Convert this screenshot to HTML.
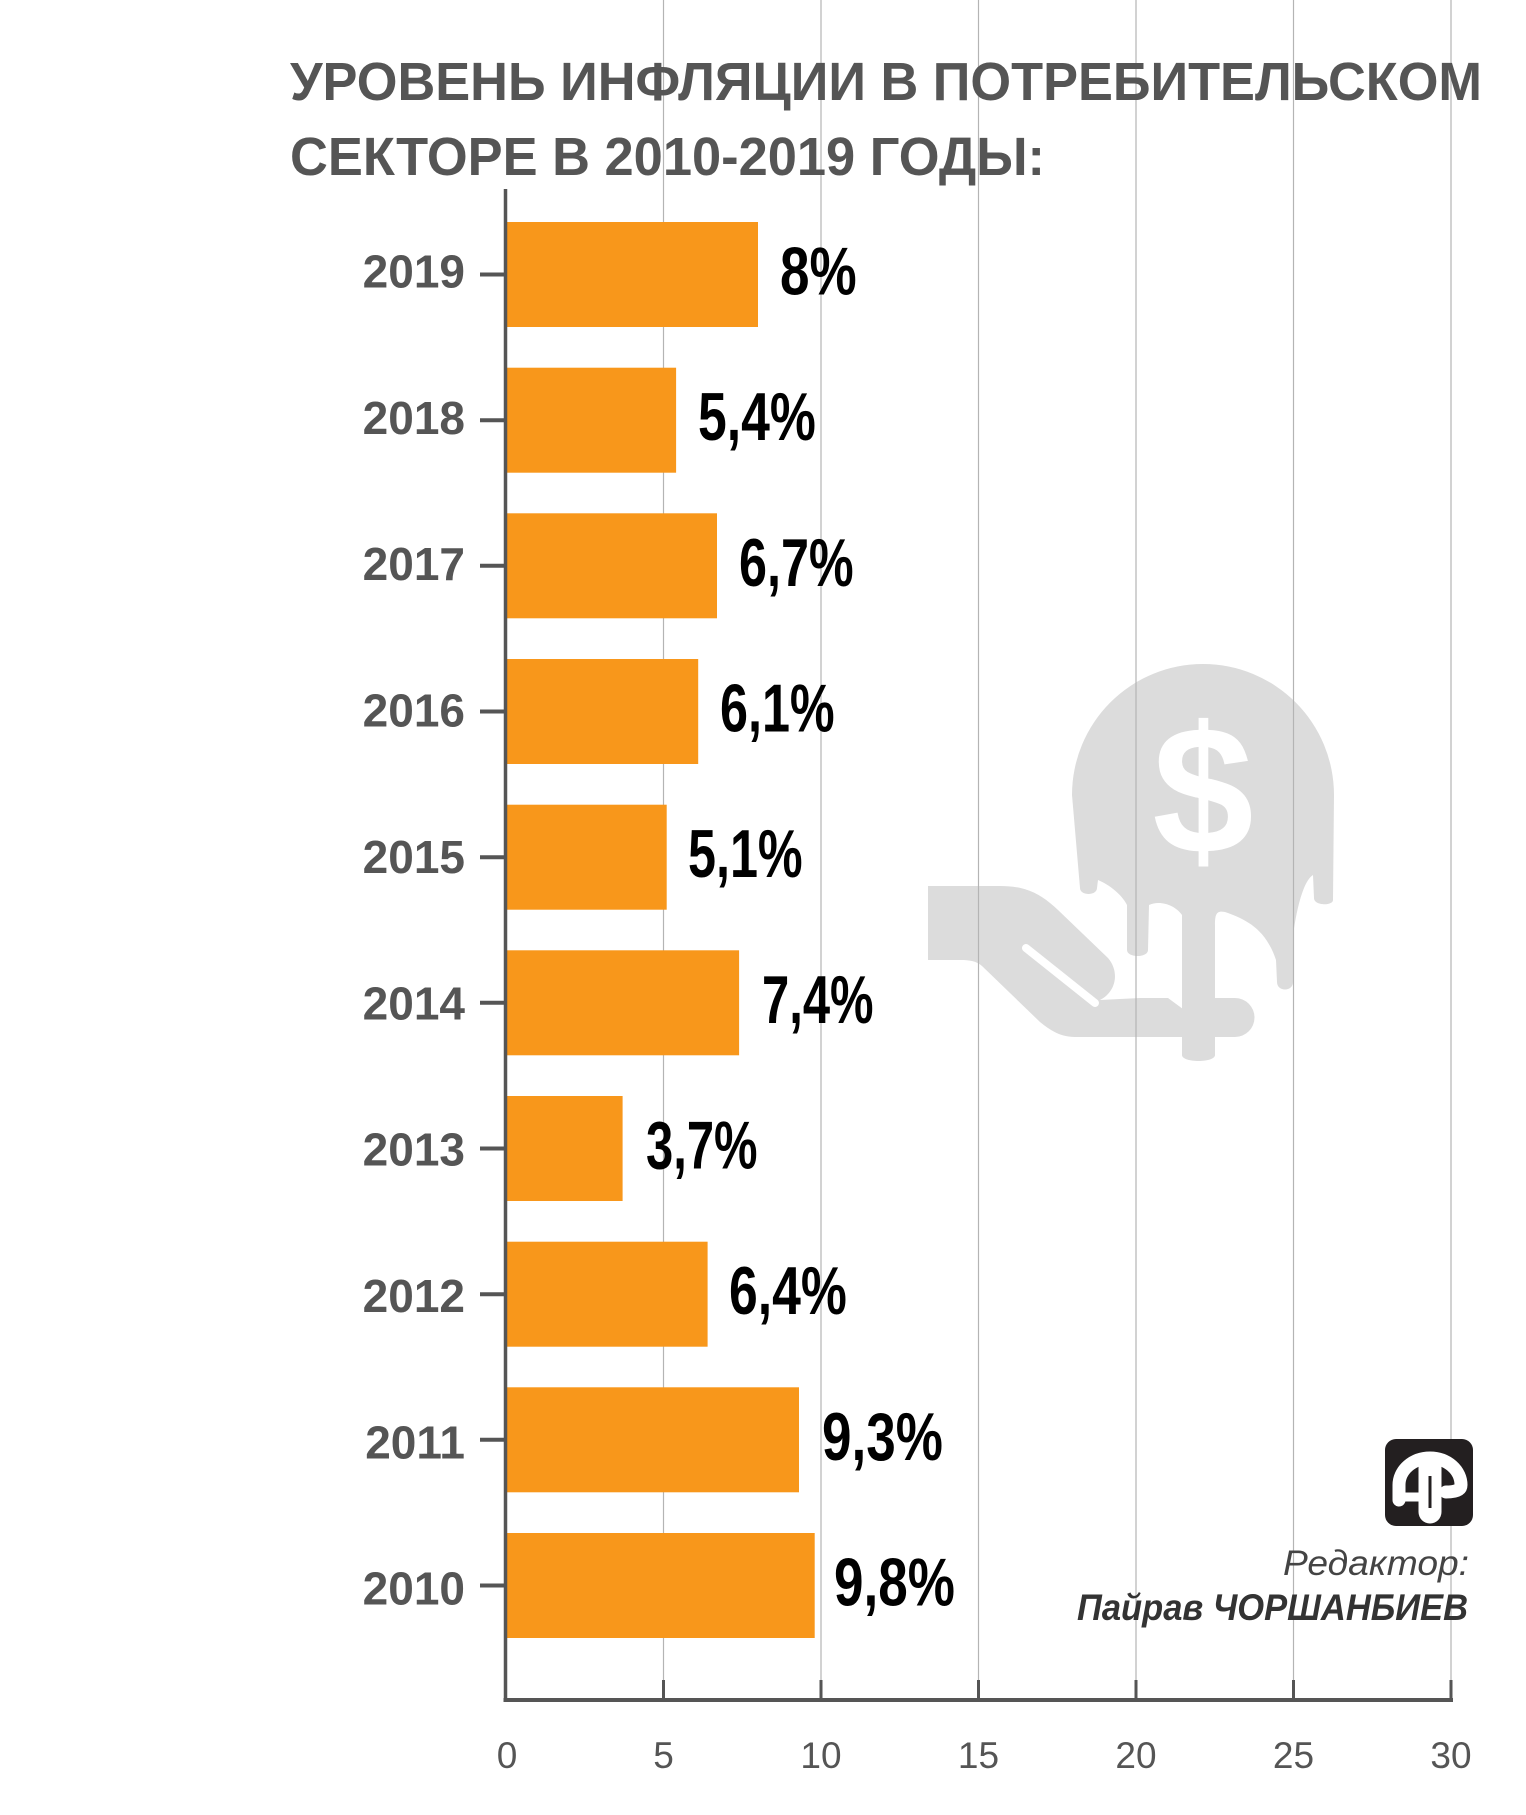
<!DOCTYPE html>
<html><head><meta charset="utf-8">
<style>
html,body{margin:0;padding:0;background:#fff;}
svg{display:block;}
text{font-family:"Liberation Sans","DejaVu Sans",sans-serif;}
</style></head>
<body>
<svg width="1526" height="1815" viewBox="0 0 1526 1815" xmlns="http://www.w3.org/2000/svg">
<rect width="1526" height="1815" fill="#fff"/>

<!-- watermark -->
<g fill="#dcdcdc">
  <path d="M1072,795 A131,131 0 0 1 1334,795 L1333,900 C1333,906 1314,906 1314,898 L1313,875 C1305,880 1298,900 1293,935 L1293,982 C1293,992 1277,992 1277,982 L1276,960 C1266,930 1248,920 1225,912 C1216,910 1215,915 1215,925 L1215,1055 C1215,1063 1182,1063 1182,1055 L1182,915 C1175,905 1160,900 1149,905 L1148,950 C1148,958 1127,958 1127,950 L1127,905 C1122,895 1110,885 1098,880 L1097,888 C1097,896 1080,896 1080,888 Z"/>
  <path d="M1187,998 L1235,998 A19.5,19.5 0 0 1 1235,1037 L1187,1037 Z"/>
  <path d="M928,886 L1000,886 C1028,886 1042,895 1058,910 L1108,958 C1120,972 1116,992 1100,1000 L1140,998 L1168,998 L1187,1012 L1187,1037 L1075,1037 C1060,1037 1050,1030 1040,1022 L982,966 C976,961 970,960 960,960 L928,960 Z"/>
</g>
<line x1="1026" y1="948" x2="1095" y2="1003" stroke="#fff" stroke-width="8" stroke-linecap="round"/>
<text x="1203" y="853" font-size="182" font-weight="bold" fill="#fff" text-anchor="middle">$</text>

<!-- gridlines -->
<g stroke="#b4b4b4" stroke-width="1.2">
  <line x1="663.5" y1="0" x2="663.5" y2="1700"/>
  <line x1="821" y1="0" x2="821" y2="1700"/>
  <line x1="978.5" y1="0" x2="978.5" y2="1700"/>
  <line x1="1136" y1="0" x2="1136" y2="1700"/>
  <line x1="1293.5" y1="0" x2="1293.5" y2="1700"/>
  <line x1="1451" y1="0" x2="1451" y2="1700"/>
</g>

<!-- title -->
<text x="290" y="100" font-size="54" font-weight="bold" fill="#555" textLength="1192" lengthAdjust="spacingAndGlyphs">УРОВЕНЬ ИНФЛЯЦИИ В ПОТРЕБИТЕЛЬСКОМ</text>
<text x="290" y="175" font-size="54" font-weight="bold" fill="#555" textLength="755" lengthAdjust="spacingAndGlyphs">СЕКТОРЕ В 2010-2019 ГОДЫ:</text>

<!-- bars -->
<g fill="#f8971b">
  <rect x="507" y="222" width="251" height="105"/>
  <rect x="507" y="367.7" width="169.1" height="105"/>
  <rect x="507" y="513.3" width="210" height="105"/>
  <rect x="507" y="659" width="191.2" height="105"/>
  <rect x="507" y="804.7" width="159.7" height="105"/>
  <rect x="507" y="950.3" width="232.1" height="105"/>
  <rect x="507" y="1096" width="115.6" height="105"/>
  <rect x="507" y="1241.7" width="200.6" height="105"/>
  <rect x="507" y="1387.3" width="292" height="105"/>
  <rect x="507" y="1533" width="307.7" height="105"/>
</g>

<!-- axes -->
<g stroke="#555" fill="none">
  <line x1="505.5" y1="189" x2="505.5" y2="1702" stroke-width="3.5"/>
  <line x1="503.5" y1="1700" x2="1453" y2="1700" stroke-width="4"/>
  <g stroke-width="3">
    <line x1="663.5" y1="1680" x2="663.5" y2="1700"/>
    <line x1="821" y1="1680" x2="821" y2="1700"/>
    <line x1="978.5" y1="1680" x2="978.5" y2="1700"/>
    <line x1="1136" y1="1680" x2="1136" y2="1700"/>
    <line x1="1293.5" y1="1680" x2="1293.5" y2="1700"/>
    <line x1="1451" y1="1680" x2="1451" y2="1700"/>
  </g>
  <g stroke-width="4">
    <line x1="480" y1="274.5" x2="505" y2="274.5"/>
    <line x1="480" y1="420.2" x2="505" y2="420.2"/>
    <line x1="480" y1="565.8" x2="505" y2="565.8"/>
    <line x1="480" y1="711.5" x2="505" y2="711.5"/>
    <line x1="480" y1="857.2" x2="505" y2="857.2"/>
    <line x1="480" y1="1002.8" x2="505" y2="1002.8"/>
    <line x1="480" y1="1148.5" x2="505" y2="1148.5"/>
    <line x1="480" y1="1294.2" x2="505" y2="1294.2"/>
    <line x1="480" y1="1439.8" x2="505" y2="1439.8"/>
    <line x1="480" y1="1585.5" x2="505" y2="1585.5"/>
  </g>
</g>

<!-- year labels -->
<g font-size="46" font-weight="bold" fill="#555" text-anchor="end">
  <text x="465" y="287.5">2019</text>
  <text x="465" y="433.9">2018</text>
  <text x="465" y="580.2">2017</text>
  <text x="465" y="726.6">2016</text>
  <text x="465" y="873">2015</text>
  <text x="465" y="1019.3">2014</text>
  <text x="465" y="1165.7">2013</text>
  <text x="465" y="1312">2012</text>
  <text x="465" y="1458.4">2011</text>
  <text x="465" y="1604.5">2010</text>
</g>

<!-- value labels -->
<g font-size="68" font-weight="bold" fill="#000">
  <text transform="translate(780,294.5) scale(0.78,1)">8%</text>
  <text transform="translate(698,440.2) scale(0.76,1)">5,4%</text>
  <text transform="translate(739,585.8) scale(0.74,1)">6,7%</text>
  <text transform="translate(720,731.5) scale(0.74,1)">6,1%</text>
  <text transform="translate(688,877.2) scale(0.74,1)">5,1%</text>
  <text transform="translate(762,1022.8) scale(0.72,1)">7,4%</text>
  <text transform="translate(646,1168.5) scale(0.72,1)">3,7%</text>
  <text transform="translate(729,1314.2) scale(0.76,1)">6,4%</text>
  <text transform="translate(822,1459.8) scale(0.78,1)">9,3%</text>
  <text transform="translate(834,1605.5) scale(0.78,1)">9,8%</text>
</g>

<!-- x tick labels -->
<g font-size="37" fill="#555" text-anchor="middle">
  <text x="507" y="1768">0</text>
  <text x="663.5" y="1768">5</text>
  <text x="821" y="1768">10</text>
  <text x="978.5" y="1768">15</text>
  <text x="1136" y="1768">20</text>
  <text x="1293.5" y="1768">25</text>
  <text x="1451" y="1768">30</text>
</g>

<!-- logo -->
<rect x="1385" y="1439" width="88" height="87" rx="11" fill="#231f20"/>
<g fill="none" stroke="#fff" stroke-linecap="round">
  <path d="M1399,1500 L1399,1485 A31,27 0 0 1 1461,1485 Q1461,1492 1446,1492" stroke-width="13"/>
  <line x1="1399" y1="1497" x2="1420" y2="1497" stroke-width="9"/>
  <line x1="1430" y1="1468" x2="1430" y2="1512" stroke-width="23"/>
</g>
<line x1="1430" y1="1476" x2="1430" y2="1508" stroke="#231f20" stroke-width="3"/>

<!-- editor -->
<text x="1469" y="1575" font-size="35" font-style="italic" fill="#444" text-anchor="end" textLength="186" lengthAdjust="spacingAndGlyphs">Редактор:</text>
<text x="1468" y="1620" font-size="37" font-style="italic" font-weight="bold" fill="#333" text-anchor="end" textLength="391" lengthAdjust="spacingAndGlyphs">Пайрав ЧОРШАНБИЕВ</text>
</svg>
</body></html>
